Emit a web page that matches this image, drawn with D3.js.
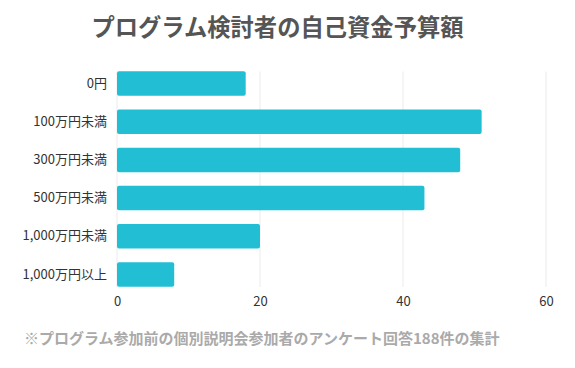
<!DOCTYPE html>
<html><head><meta charset="utf-8">
<script src="https://cdn.jsdelivr.net/npm/d3@7"></script>
<style>
html,body{margin:0;padding:0;background:#fff;}
svg{display:block;font-family:"Noto Sans CJK JP","Noto Sans",sans-serif;}
</style></head>
<body>
<script>
const categories = ["0円","100万円未満","300万円未満","500万円未満","1,000万円未満","1,000万円以上"];
const values = [18, 51, 48, 43, 20, 8];
const xTicks = [0, 20, 40, 60];
const title = "プログラム検討者の自己資金予算額";
const note = "※プログラム参加前の個別説明会参加者のアンケート回答188件の集計";

const W = 575, H = 368;
const svg = d3.select("body").append("svg").attr("width", W).attr("height", H);

const x = d3.scaleLinear().domain([0, 60]).range([117, 546]);
const y = d3.scaleBand().domain(categories).range([71.3, 286.7]).paddingInner(0.36).paddingOuter(0);

svg.append("text").attr("x", 277.5).attr("y", 35.5).attr("text-anchor", "middle")
  .attr("font-size", 23.3).attr("font-weight", 700).attr("fill", "#555").text(title);

// grid
svg.append("g").selectAll("line").data(xTicks).join("line")
  .attr("x1", d => x(d)).attr("x2", d => x(d))
  .attr("y1", 71.5).attr("y2", 287)
  .attr("stroke", "#ebebeb").attr("stroke-width", 1);

// bars
svg.append("g").selectAll("rect").data(values).join("rect")
  .attr("x", x(0))
  .attr("y", (d, i) => y(categories[i]))
  .attr("width", d => x(d) - x(0))
  .attr("height", y.bandwidth())
  .attr("rx", 2).attr("ry", 2)
  .attr("fill", "#22bfd4");

// y axis
const ya = svg.append("g").attr("transform", `translate(${x(0)},0)`)
  .call(d3.axisLeft(y).tickSize(0).tickPadding(10));
ya.select(".domain").remove();
ya.selectAll("text").attr("font-size", 13).attr("fill", "#333")
  .attr("font-family", '"Noto Sans CJK JP","Noto Sans",sans-serif');

// x axis
const xa = svg.append("g").attr("transform", `translate(0,287)`)
  .call(d3.axisBottom(x).tickValues(xTicks).tickSize(0).tickPadding(10));
xa.select(".domain").remove();
xa.selectAll("text").attr("font-size", 13).attr("fill", "#333")
  .attr("font-family", '"Noto Sans CJK JP","Noto Sans",sans-serif');

svg.append("text").attr("x", 24).attr("y", 344)
  .attr("font-size", 15).attr("font-weight", 700).attr("fill", "#aaa").text(note);
</script>
</body></html>
